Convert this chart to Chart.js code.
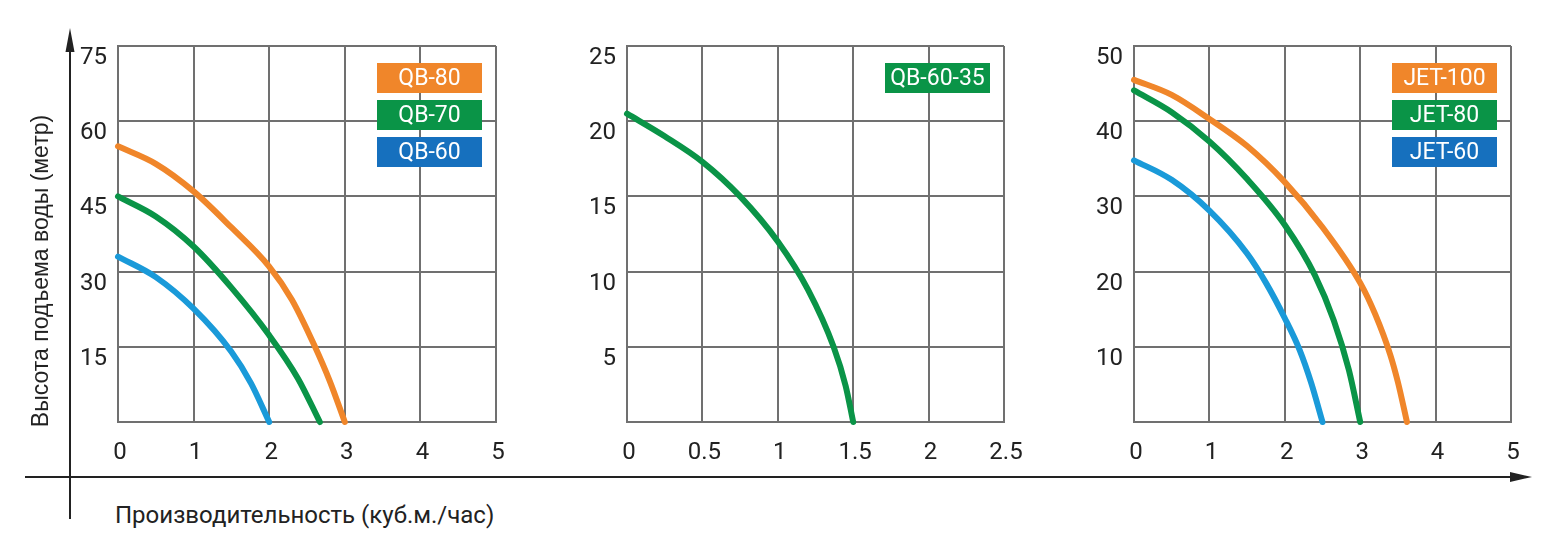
<!DOCTYPE html>
<html>
<head>
<meta charset="utf-8">
<script src="https://cdn.jsdelivr.net/npm/chart.js@4.4.1/dist/chart.umd.min.js"></script>
<style>
    body { margin: 0; background: #fff; width: 1561px; height: 553px; position: relative; overflow: hidden; }
    .box { position: absolute; top: 0; height: 470px; }
    #axes { position: absolute; left: 0; top: 0; }
    #yTitle {
        position: absolute; left: -160px; top: 257px; width: 400px; height: 28px; line-height: 28px;
        text-align: center; transform: rotate(-90deg);
        font-family: "Liberation Sans", Arial, sans-serif; font-size: 23px; color: #222;
    }
    #xTitle {
        position: absolute; left: 115px; top: 501px; line-height: 28px;
        font-family: Roboto, sans-serif; font-size: 24px; color: #222; white-space: nowrap;
    }
</style>
</head>
<body>
<svg id="axes" width="1561" height="553">
    <line x1="70" y1="50" x2="70" y2="519" stroke="#222" stroke-width="2"/>
    <polygon points="70,28 65.5,52 74.5,52" fill="#222"/>
    <line x1="25" y1="477" x2="1514" y2="477" stroke="#222" stroke-width="2"/>
    <polygon points="1532,477 1510,472 1510,482" fill="#222"/>
</svg>
<div class="box" style="left:0;width:520px"><canvas id="c1"></canvas></div>
<div class="box" style="left:520px;width:520px"><canvas id="c2"></canvas></div>
<div class="box" style="left:1040px;width:521px"><canvas id="c3"></canvas></div>
<div id="yTitle">Высота подъема воды (метр)</div>
<div id="xTitle">Производительность (куб.м./час)</div>

<script>
// данные: расход (куб.м./час) и напор (метр)
const qb80Q = [0, 0.5, 1, 1.5, 2, 2.3, 2.6, 2.8, 3];
const qb80H = [55, 51.5, 46, 38.8, 31, 24.4, 15.2, 8.2, 0];
const qb70Q = [0, 0.5, 1, 1.5, 2, 2.38, 2.67];
const qb70H = [45, 41, 35, 26.8, 17.3, 8.7, 0];
const qb60Q = [0, 0.5, 1, 1.5, 1.76, 2];
const qb60H = [33, 28.9, 22.6, 14, 7.7, 0];

const qb6035Q = [0, 0.25, 0.5, 0.75, 1, 1.2, 1.37, 1.45, 1.5];
const qb6035H = [20.5, 19, 17.3, 15, 12, 8.8, 5, 2.4, 0];

const jet100Q = [0, 0.5, 1, 1.5, 2, 2.5, 3, 3.2, 3.4, 3.5, 3.62];
const jet100H = [45.5, 43.5, 40.3, 36.7, 31.9, 25.9, 18.5, 14.3, 8.9, 5.3, 0];
const jet80Q = [0, 0.5, 1, 1.5, 2, 2.4, 2.65, 2.85, 3];
const jet80H = [44.1, 41.2, 37.3, 32.3, 26.2, 19.5, 13.5, 6.9, 0];
const jet60Q = [0, 0.5, 1, 1.5, 1.75, 2, 2.2, 2.35, 2.5];
const jet60H = [34.8, 32.2, 28.1, 22.4, 18.5, 13.8, 9.5, 5.2, 0];

// подписи делений
const x1Ticks = [0, 1, 2, 3, 4, 5];
const y1Ticks = [15, 30, 45, 60, 75];
const x2Ticks = [0, 0.5, 1, 1.5, 2, 2.5];
const y2Ticks = [5, 10, 15, 20, 25];
const x3Ticks = [0, 1, 2, 3, 4, 5];
const y3Ticks = [10, 20, 30, 40, 50];

const ORANGE = '#f0862a';
const GREEN = '#0a9447';
const BLUE_LINE = '#1a9ad9';
const BLUE_BOX = '#1670be';
const GRID = '#707070';
const TICK_FONT = { family: 'Roboto', size: 24 };

function points(qs, hs) {
    return qs.map((q, i) => ({ x: q, y: hs[i] }));
}

function series(label, qs, hs, color, boxColor) {
    return {
        label: label,
        data: points(qs, hs),
        borderColor: color,
        legendColor: boxColor || color,
        borderWidth: 6,
        borderCapStyle: 'round',
        cubicInterpolationMode: 'monotone',
        pointRadius: 0,
        clip: false
    };
}

// цветные плашки с названиями моделей
const legendBoxes = {
    id: 'legendBoxes',
    afterDatasetsDraw(chart) {
        const { ctx, chartArea } = chart;
        ctx.save();
        chart.data.datasets.forEach((ds, i) => {
            const w = 105, h = 30;
            const x = chartArea.right - 14 - w;
            const y = chartArea.top + 17 + i * 37;
            ctx.fillStyle = ds.legendColor;
            ctx.fillRect(x, y, w, h);
            ctx.fillStyle = '#fff';
            ctx.font = '23px Roboto';
            ctx.textAlign = 'center';
            ctx.textBaseline = 'middle';
            ctx.fillText(ds.label, x + w / 2, y + h / 2 + 1);
        });
        ctx.restore();
    }
};

function makeChart(id, datasets, xTicks, yTicks, yWidth, padRight) {
    return new Chart(document.getElementById(id), {
        type: 'line',
        data: { datasets: datasets },
        plugins: [legendBoxes],
        options: {
            responsive: true,
            maintainAspectRatio: false,
            animation: false,
            layout: { padding: { top: 46, right: padRight, left: 0, bottom: 0 } },
            plugins: { legend: { display: false }, tooltip: { enabled: false } },
            scales: {
                x: {
                    type: 'linear',
                    min: xTicks[0],
                    max: xTicks[xTicks.length - 1],
                    afterBuildTicks: s => { s.ticks = xTicks.map(v => ({ value: v })); },
                    afterFit: s => { s.height = 48; },
                    grid: { color: GRID, lineWidth: 2, drawTicks: false },
                    border: { color: GRID, width: 2 },
                    ticks: {
                        font: TICK_FONT, color: '#222', padding: 17, maxRotation: 0, labelOffset: 2,
                        callback: v => String(v)
                    }
                },
                y: {
                    min: 0,
                    max: yTicks[yTicks.length - 1],
                    afterBuildTicks: s => { s.ticks = yTicks.map(v => ({ value: v })); },
                    afterFit: s => { s.width = yWidth; },
                    grid: { color: GRID, lineWidth: 2, drawTicks: false },
                    border: { color: GRID, width: 2 },
                    ticks: { font: TICK_FONT, color: '#222', padding: 11, labelOffset: 12 }
                }
            }
        }
    });
}

makeChart('c1', [
    series('QB-80', qb80Q, qb80H, ORANGE),
    series('QB-70', qb70Q, qb70H, GREEN),
    series('QB-60', qb60Q, qb60H, BLUE_LINE, BLUE_BOX)
], x1Ticks, y1Ticks, 118, 24);

makeChart('c2', [
    series('QB-60-35', qb6035Q, qb6035H, GREEN)
], x2Ticks, y2Ticks, 107, 36);

makeChart('c3', [
    series('JET-100', jet100Q, jet100H, ORANGE),
    series('JET-80', jet80Q, jet80H, GREEN),
    series('JET-60', jet60Q, jet60H, BLUE_LINE, BLUE_BOX)
], x3Ticks, y3Ticks, 94, 50);
</script>
</body>
</html>
